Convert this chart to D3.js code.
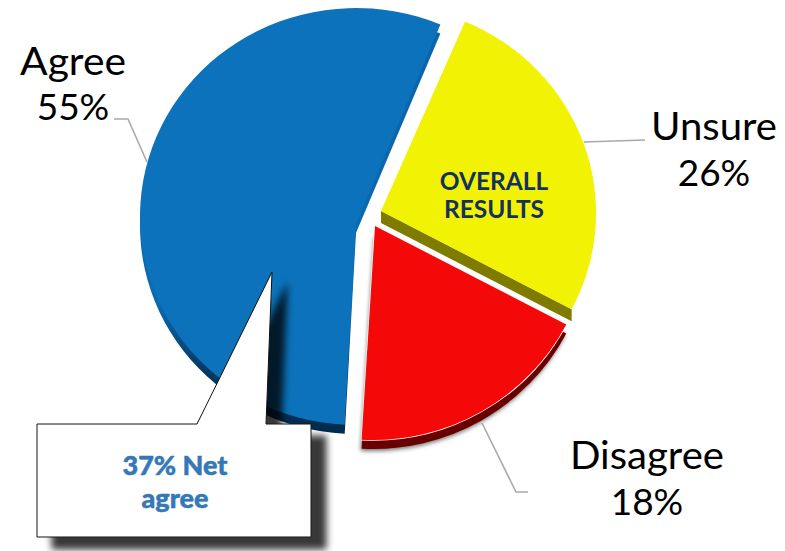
<!DOCTYPE html>
<html>
<head>
<meta charset="utf-8">
<script src="https://cdnjs.cloudflare.com/ajax/libs/d3/7.8.5/d3.min.js"></script>
<style>
html,body{margin:0;padding:0;background:#fff}
svg{display:block}
text{font-family:Lato,"Open Sans",sans-serif}
</style>
</head>
<body>
<svg id="c" width="785" height="551"></svg>
<script>
const categories = ["Unsure", "Disagree", "Agree"];
const values = [26, 18, 55];
const centerTitle = ["OVERALL", "RESULTS"];
const calloutText = ["37% Net", "agree"];

const sliceLayout = {
  Unsure:   {ax:381, ay:211, cx:381, cy:213,   rx:215, ry:208,   depth:12, face:"#f2f205", side:"#7f7a00"},
  Disagree: {ax:375, ay:226, cx:373, cy:225,   rx:218, ry:215,   depth:9,  face:"#f40808", side:"#690000"},
  Agree:    {ax:356, ay:224, cx:356, cy:216.5, rx:216, ry:208.5, depth:9,  face:"#0b72bb", side:"url(#blueSide)"}
};
const labelLayout = {
  Agree:    {x:73,  y:[75,120],  w:106, line:[[114,119],[128,119],[147,162]]},
  Unsure:   {x:714, y:[140,186], w:126, line:[[584,142],[645,140]]},
  Disagree: {x:647, y:[469,515], w:154, line:[[482,423],[516,492],[528,492]]}
};

const svg = d3.select("#c");
const defs = svg.append("defs");

const grad = defs.append("linearGradient").attr("id","blueSide")
  .attr("gradientUnits","userSpaceOnUse").attr("x1",0).attr("x2",0).attr("y1",20).attr("y2",435);
grad.append("stop").attr("offset","0").attr("stop-color","#0a64a8");
grad.append("stop").attr("offset","0.68").attr("stop-color","#0a6bb2");
grad.append("stop").attr("offset","0.84").attr("stop-color","#043a66");
grad.append("stop").attr("offset","1").attr("stop-color","#012a4c");

const soft = defs.append("filter").attr("id","softShadow")
  .attr("x","-10%").attr("y","-10%").attr("width","120%").attr("height","120%");
soft.append("feDropShadow").attr("dx",-1).attr("dy",2).attr("stdDeviation",2)
  .attr("flood-color","#000").attr("flood-opacity",0.55);

const boxShadow = defs.append("filter").attr("id","boxShadow")
  .attr("x","-20%").attr("y","-20%").attr("width","150%").attr("height","150%");
boxShadow.append("feDropShadow").attr("dx",15).attr("dy",12).attr("stdDeviation",3.5)
  .attr("flood-color","#000").attr("flood-opacity",0.78);

const pie = d3.pie().sort(null).value(d => d.value)
  .startAngle(23 * Math.PI / 180).endAngle(383 * Math.PI / 180);
const arcs = pie(categories.map((name, i) => ({name, value: values[i]})));

function wedge(d, shift) {
  const L = sliceLayout[d.data.name];
  const xAt = t => L.cx + Math.sin(t) * L.rx;
  const yAt = t => L.cy - Math.cos(t) * L.ry + shift;
  const large = d.endAngle - d.startAngle > Math.PI ? 1 : 0;
  return `M${L.ax},${L.ay + shift}L${xAt(d.startAngle)},${yAt(d.startAngle)}` +
         `A${L.rx},${L.ry} 0 ${large} 1 ${xAt(d.endAngle)},${yAt(d.endAngle)}Z`;
}
// the yellow slice only shows its side along the straight lower edge
function edgeBand(d) {
  const L = sliceLayout[d.data.name];
  const ex = L.cx + Math.sin(d.endAngle) * L.rx;
  const ey = L.cy - Math.cos(d.endAngle) * L.ry;
  return `M${L.ax},${L.ay}L${ex},${ey}L${ex},${ey + L.depth}L${L.ax},${L.ay + L.depth}Z`;
}

const order = ["Agree", "Unsure", "Disagree"].map(n => arcs.find(a => a.data.name === n));

const slices = svg.append("g").selectAll("g").data(order).join("g");
slices.append("path")
  .attr("d", d => d.data.name === "Unsure" ? edgeBand(d) : wedge(d, sliceLayout[d.data.name].depth))
  .attr("fill", d => sliceLayout[d.data.name].side)
  .attr("filter", d => d.data.name === "Disagree" ? "url(#softShadow)" : null);
slices.append("path")
  .attr("d", d => wedge(d, 0))
  .attr("fill", d => sliceLayout[d.data.name].face)
  .attr("stroke", d => d.data.name === "Disagree" ? "#fff" : "none")
  .attr("stroke-width", 1.5)
  .attr("paint-order", "stroke");

// leader lines
const lineGen = d3.line();
svg.append("g").selectAll("path").data(Object.values(labelLayout)).join("path")
  .attr("d", d => lineGen(d.line))
  .attr("fill", "none").attr("stroke", "#a9a9a9").attr("stroke-width", 1.6);

// labels
const pct = Object.fromEntries(categories.map((c, i) => [c, values[i] + "%"]));
Object.entries(labelLayout).forEach(([name, L]) => {
  svg.append("text").attr("x", L.x).attr("y", L.y[0])
    .attr("text-anchor", "middle").attr("font-size", 38).attr("fill", "#000")
    .attr("textLength", L.w).attr("lengthAdjust", "spacingAndGlyphs").text(name);
  svg.append("text").attr("x", L.x).attr("y", L.y[1])
    .attr("text-anchor", "middle").attr("font-size", 37).attr("fill", "#000").text(pct[name]);
});

// centre title
centerTitle.forEach((t, i) => {
  svg.append("text").attr("x", 494).attr("y", 190 + i * 28)
    .attr("text-anchor", "middle").attr("font-size", 24.5).attr("font-weight", 700)
    .attr("fill", "#14305e").text(t);
});

// callout
const calloutShape = d3.path();
calloutShape.moveTo(37, 424);
calloutShape.lineTo(197, 424);
calloutShape.lineTo(272, 272);
calloutShape.lineTo(266, 424);
calloutShape.lineTo(311, 424);
calloutShape.lineTo(311, 537);
calloutShape.lineTo(37, 537);
calloutShape.closePath();
svg.append("path").attr("d", calloutShape.toString())
  .attr("fill", "#fff").attr("stroke", "#111").attr("stroke-width", 1)
  .attr("filter", "url(#boxShadow)");

calloutText.forEach((t, i) => {
  svg.append("text").attr("x", 175).attr("y", 475 + i * 33)
    .attr("text-anchor", "middle").attr("font-size", 27).attr("font-weight", 900)
    .attr("fill", "#3478b8").attr("stroke", "#3478b8").attr("stroke-width", 0.5).text(t);
});
</script>
</body>
</html>
